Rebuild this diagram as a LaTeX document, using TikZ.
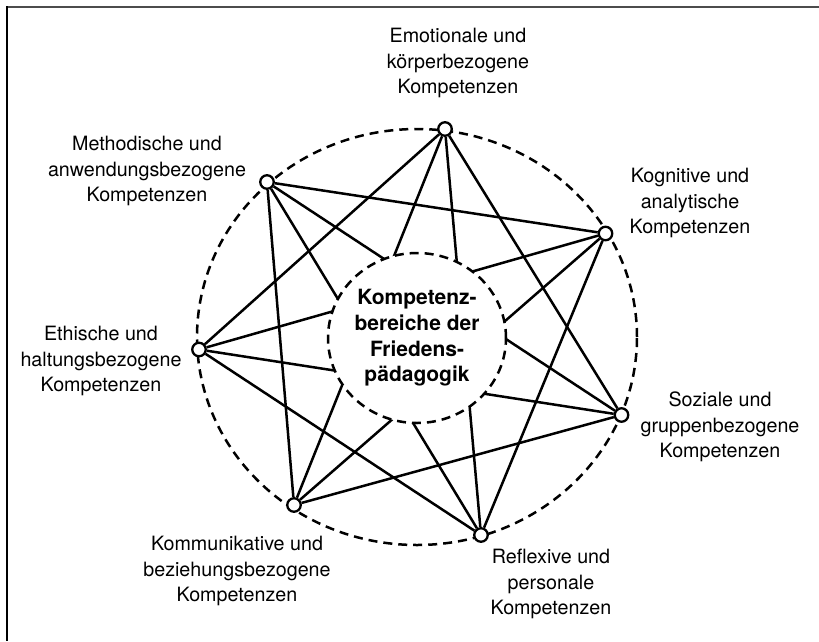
\documentclass[tikz,border=0pt]{standalone}
\usepackage{fontspec}
\setmainfont{TeX Gyre Heros}
\usetikzlibrary{shapes.geometric,backgrounds}
\begin{document}
\begin{tikzpicture}[x=1pt,y=-1pt,
  pt/.style={circle,draw,fill=white,line width=2.3pt,minimum size=13.5pt,inner sep=0pt},
  chord/.style={line width=2.5pt},
  dashline/.style={line width=2.5pt,dash pattern=on 9pt off 6pt},
  lbl/.style={align=center,font=\fontsize{19.7}{25.5}\selectfont,inner sep=0pt},
  ctrtext/.style={align=center,font=\bfseries\fontsize{21}{25.7}\selectfont,inner sep=0pt}]
\useasboundingbox (0,0) rectangle (819,641);
% frame
\draw[line width=2pt,black!70] (6,7) -- (819,7);
\draw[line width=2pt,black] (7,6) -- (7,641);
% outer nodes
\node[pt] (E)  at (445,129) {};
\node[pt] (K)  at (605.5,233.5) {};
\node[pt] (S)  at (621.5,415) {};
\node[pt] (R)  at (481,535) {};
\node[pt] (Ko) at (294,505) {};
\node[pt] (Et) at (199,349.5) {};
\node[pt] (M)  at (267,182) {};
% centre
\node[ellipse,draw,dashline,fill=white,minimum width=178pt,minimum height=170pt,inner sep=0pt] (C) at (417,338) {};
\node[ctrtext] (Ct) at (C.center) {Kompetenz-\\bereiche der\\Friedens-\\pädagogik};
\begin{scope}[on background layer]
  \draw[dashline] (417,337) ellipse [x radius=220pt, y radius=208pt];
  \draw[chord] (E) -- (R);
  \draw[chord] (K) -- (Ko);
  \draw[chord] (S) -- (Et);
  \draw[chord] (R) -- (M);
  \draw[chord] (Ko) -- (E);
  \draw[chord] (Et) -- (K);
  \draw[chord] (M) -- (S);
  \draw[chord] (E) -- (S);
  \draw[chord] (K) -- (R);
  \draw[chord] (S) -- (Ko);
  \draw[chord] (R) -- (Et);
  \draw[chord] (Ko) -- (M);
  \draw[chord] (Et) -- (E);
  \draw[chord] (M) -- (K);
\end{scope}
% labels
\node[lbl] (tE)  at (458,63)  {Emotionale und\\körperbezogene\\Kompetenzen};
\node[lbl] (tM)  at (147,171) {Methodische und\\anwendungsbezogene\\Kompetenzen};
\node[lbl] (tK)  at (690,203) {Kognitive und\\analytische\\Kompetenzen};
\node[lbl] (tEt) at (101,361) {Ethische und\\haltungsbezogene\\Kompetenzen};
\node[lbl] (tS)  at (720,427) {Soziale und\\gruppenbezogene\\Kompetenzen};
\node[lbl] (tKo) at (237,571) {Kommunikative und\\beziehungsbezogene\\Kompetenzen};
\node[lbl] (tR)  at (551,584) {Reflexive und\\personale\\Kompetenzen};
\end{tikzpicture}
\end{document}
